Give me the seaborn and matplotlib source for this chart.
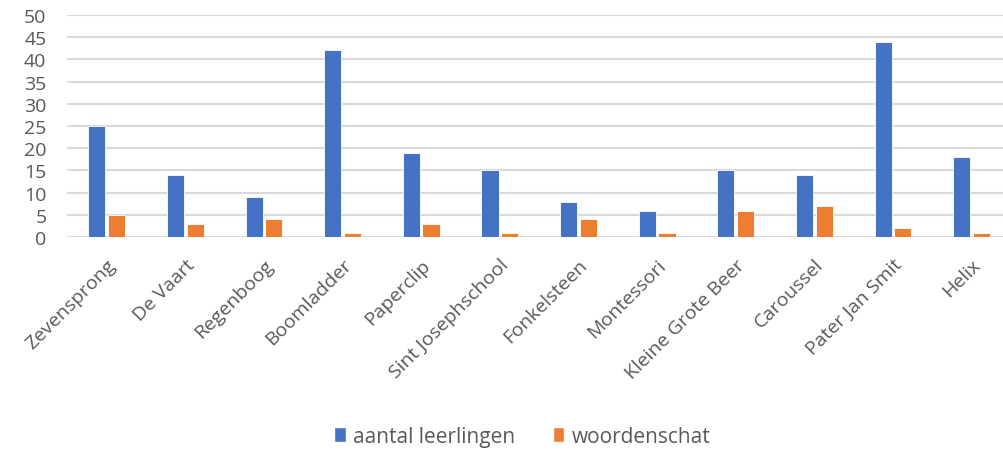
import matplotlib
matplotlib.use("Agg")
import matplotlib.pyplot as plt
import seaborn as sns
import pandas as pd

categories = ["Zevensprong", "De Vaart", "Regenboog", "Boomladder", "Paperclip",
              "Sint Josephschool", "Fonkelsteen", "Montessori", "Kleine Grote Beer",
              "Caroussel", "Pater Jan Smit", "Helix"]
leerlingen = [25, 14, 9, 42, 19, 15, 8, 6, 15, 14, 44, 18]
woordenschat = [5, 3, 4, 1, 3, 1, 4, 1, 6, 7, 2, 1]
series_names = ["aantal leerlingen", "woordenschat"]
y_ticks = [0, 5, 10, 15, 20, 25, 30, 35, 40, 45, 50]

df = pd.DataFrame({
    "school": categories * 2,
    "serie": [series_names[0]] * len(categories) + [series_names[1]] * len(categories),
    "waarde": leerlingen + woordenschat,
})

sns.set_theme(style="white")
plt.rcParams["font.family"] = ["Open Sans", "DejaVu Sans"]
grey = "#595959"

fig = plt.figure(figsize=(10.04, 4.52), dpi=100)
ax = fig.add_axes([0.067, 0.473, 0.94, 0.492])

sns.barplot(data=df, x="school", y="waarde", hue="serie", order=categories,
            hue_order=series_names, palette=["#4472C4", "#ED7D31"],
            width=0.5, gap=0.13, ax=ax, legend=False, saturation=1,
            edgecolor="white", linewidth=0.6)

ax.set_ylim(0, 50)
ax.set_xlim(-0.5, len(categories) - 0.5)
ax.set_yticks(y_ticks)
ax.set_yticklabels([str(v) for v in y_ticks], fontsize=14, color=grey)
ax.yaxis.grid(True, color="#D9D9D9", linewidth=1.5)
ax.set_axisbelow(True)
ax.tick_params(axis="y", length=0, pad=15)
ax.tick_params(axis="x", length=0, pad=13)
ax.set_xticks(range(len(categories)))
ax.set_xticklabels(categories, rotation=45, ha="right", rotation_mode="anchor",
                   fontsize=14, color=grey)
ax.set_xlabel("")
ax.set_ylabel("")
for s in ax.spines.values():
    s.set_visible(False)

from matplotlib.patches import Patch
handles = [Patch(facecolor="#4472C4"), Patch(facecolor="#ED7D31")]
leg = fig.legend(handles, series_names, loc="center", bbox_to_anchor=(0.52, 0.033),
                 ncol=2, frameon=False, fontsize=15, handlelength=0.55, handleheight=0.75,
                 handletextpad=0.35, columnspacing=1.8)
for t in leg.get_texts():
    t.set_color(grey)

fig.savefig("out.png", dpi=100)
